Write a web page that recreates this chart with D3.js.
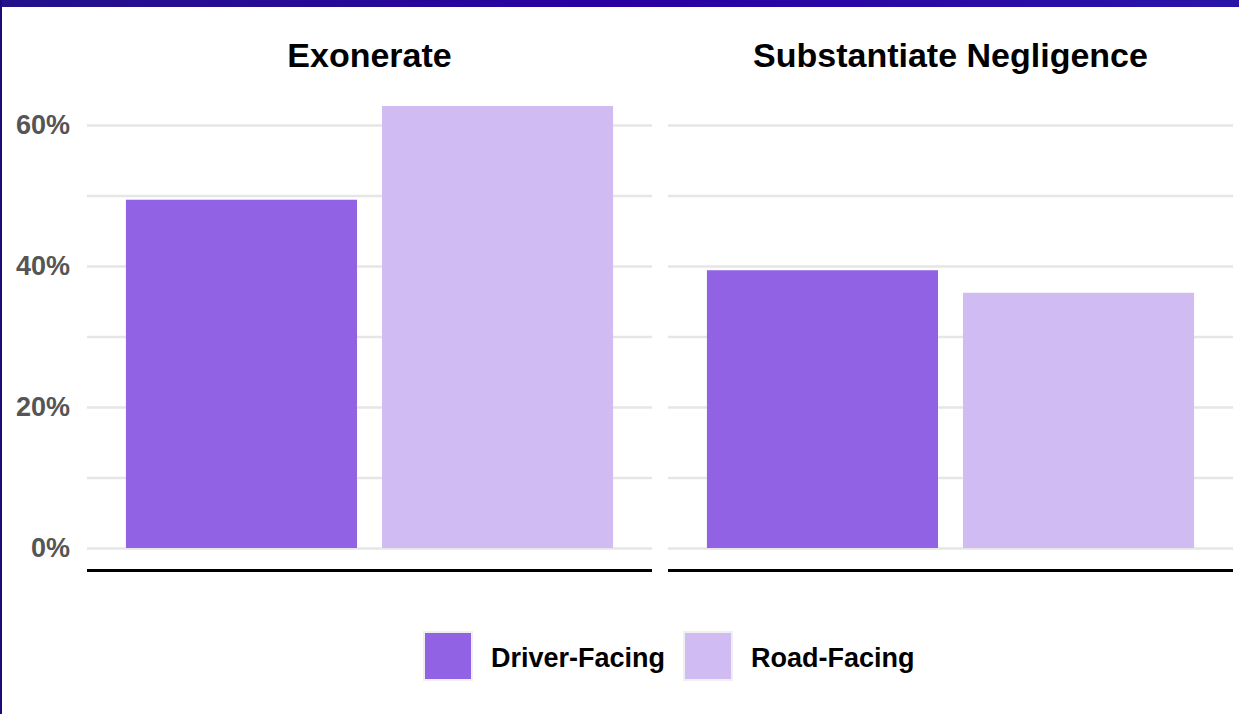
<!DOCTYPE html>
<html>
<head>
<meta charset="utf-8">
<script src="https://cdn.jsdelivr.net/npm/d3@7"></script>
<style>
  html, body { margin: 0; padding: 0; background: #fff; }
  svg { display: block; font-family: "Liberation Sans", Arial, sans-serif; }
</style>
</head>
<body>
<svg id="chart" width="1239" height="714"></svg>
<script>
// Facets, series and values (percent of cases)
const panels = ["Exonerate", "Substantiate Negligence"];
const series = ["Driver-Facing", "Road-Facing"];
const driverFacing = [49.4, 39.4];
const roadFacing = [62.7, 36.2];
const yTickValues = [0, 20, 40, 60];
const gridValues = [0, 10, 20, 30, 40, 50, 60];
const seriesColors = ["#9162e4", "#d0bbf2"];

const W = 1239, H = 714;
const svg = d3.select("#chart");

// Frame: gradient band on top, thin rule on the left
const defs = svg.append("defs");
const grad = defs.append("linearGradient").attr("id", "band").attr("x1", "0").attr("x2", "1");
grad.append("stop").attr("offset", "0").attr("stop-color", "#24128a");
grad.append("stop").attr("offset", "0.5").attr("stop-color", "#2a00a2");
grad.append("stop").attr("offset", "1").attr("stop-color", "#2a14a8");
svg.append("rect").attr("x", 0).attr("y", 0).attr("width", W).attr("height", 7).attr("fill", "url(#band)");
svg.append("rect").attr("x", 0).attr("y", 0).attr("width", 2).attr("height", H).attr("fill", "#1c0a78");

// Scales
const panelX = d3.scaleBand().domain(panels).range([87, 1233]).paddingInner(16 / 581);
const innerX = d3.scaleBand().domain(series).range([0, panelX.bandwidth()])
  .paddingInner(0.0977).paddingOuter(0.152);
const y = d3.scaleLinear().domain([0, 60]).range([548, 125]);
const color = d3.scaleOrdinal().domain(series).range(seriesColors);

// Y tick labels
const yAxis = svg.append("g").attr("transform", `translate(87,0)`)
  .call(d3.axisLeft(y).tickValues(yTickValues).tickFormat(d => d + "%").tickSize(0).tickPadding(17));
yAxis.select(".domain").remove();
yAxis.selectAll("text")
  .attr("fill", "#555").attr("font-size", 27).attr("font-weight", "bold")
  .attr("font-family", "Liberation Sans, Arial, sans-serif");

panels.forEach((p, i) => {
  const g = svg.append("g").attr("transform", `translate(${panelX(p)},0)`);
  const w = panelX.bandwidth();

  // Gridlines
  const grid = g.append("g")
    .call(d3.axisLeft(y).tickValues(gridValues).tickSize(-w).tickFormat(""));
  grid.select(".domain").remove();
  grid.selectAll("line").attr("stroke", "#e6e6e6").attr("stroke-width", 2.5);

  // Bars
  const vals = [driverFacing[i], roadFacing[i]];
  g.selectAll("rect.bar").data(series).join("rect")
    .attr("class", "bar")
    .attr("x", s => innerX(s))
    .attr("width", innerX.bandwidth())
    .attr("y", (s, k) => y(vals[k]))
    .attr("height", (s, k) => y(0) - y(vals[k]))
    .attr("fill", s => color(s));

  // Baseline rule under the panel
  g.append("line").attr("x1", 0).attr("x2", w).attr("y1", 570.5).attr("y2", 570.5)
    .attr("stroke", "#000").attr("stroke-width", 3);

  // Facet title
  g.append("text").attr("x", w / 2).attr("y", 67).attr("text-anchor", "middle")
    .attr("font-size", 34).attr("font-weight", "bold").attr("fill", "#000").text(p);
});

// Legend
const legendX = [423, 683];
const legend = svg.append("g");
series.forEach((s, i) => {
  const lg = legend.append("g").attr("transform", `translate(${legendX[i]},631)`);
  lg.append("rect").attr("x", 1).attr("y", 1).attr("width", 48).attr("height", 48)
    .attr("fill", color(s)).attr("stroke", "#efefef").attr("stroke-width", 2);
  lg.append("text").attr("x", 68).attr("y", 36).attr("font-size", 27)
    .attr("font-weight", "bold").attr("fill", "#000").text(s);
});
</script>
</body>
</html>
